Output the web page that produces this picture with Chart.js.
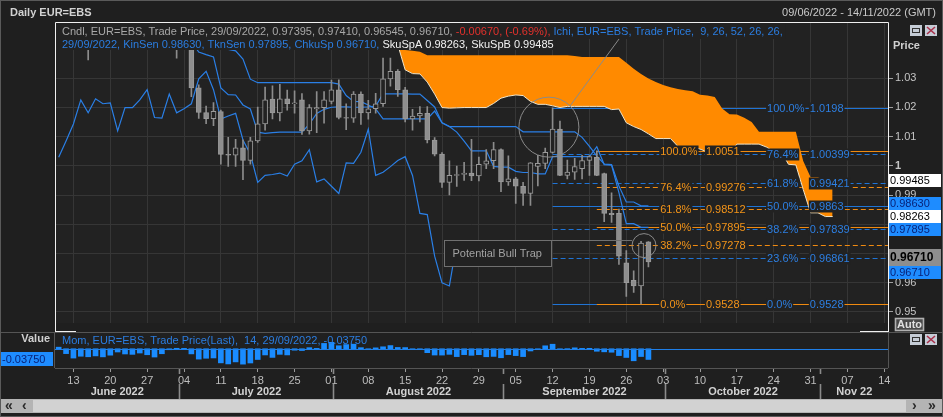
<!DOCTYPE html>
<html>
<head>
<meta charset="utf-8">
<title>Daily EUR=EBS</title>
<script src="https://cdn.jsdelivr.net/npm/chart.js@4.4.1/dist/chart.umd.min.js"></script>
<style>
  html, body { margin: 0; padding: 0; background: #1f1f1f; }
  #wrap { position: relative; width: 943px; height: 417px; overflow: hidden; background: #1f1f1f; }
  #priceCanvas { position: absolute; left: 0; top: 0; }
  #momCanvas { position: absolute; left: 0; top: 332px; }
  #scroll { position: absolute; left: 0; top: 399px; width: 943px; height: 14px; background: #b4b4b4; }
  #track { position: absolute; left: 33px; top: 1px; width: 873px; height: 12px; background: #d2d2d2; }
  .arr { position: absolute; top: -2px; font: bold 14px "Liberation Sans", Arial, sans-serif; color: #2a2a2a; }
  #frame { position: absolute; left: 0; top: 0; width: 941px; height: 415px; border: 1px solid #5a5a5a; pointer-events: none; }
</style>
</head>
<body>
<div id="wrap">
  <canvas id="priceCanvas" width="943" height="332"></canvas>
  <canvas id="momCanvas" width="943" height="85"></canvas>
  <div id="scroll"><div id="track"></div>
    <span class="arr" style="left:5px">&laquo;</span><span class="arr" style="left:22px">&lsaquo;</span>
    <span class="arr" style="left:912px">&rsaquo;</span><span class="arr" style="left:928px">&raquo;</span>
  </div>
  <div id="frame"></div>
</div>
<script>
var fontFam = '"Liberation Sans", Arial, sans-serif';
var plotBg = '#222222';

// trading days 2022 (MM-DD), 09/06/2022 - 14/11/2022
var days = [
  '06-09','06-10','06-13','06-14','06-15','06-16','06-17','06-20','06-21','06-22','06-23','06-24','06-27','06-28','06-29','06-30',
  '07-01','07-04','07-05','07-06','07-07','07-08','07-11','07-12','07-13','07-14','07-15','07-18','07-19','07-20','07-21','07-22',
  '07-25','07-26','07-27','07-28','07-29',
  '08-01','08-02','08-03','08-04','08-05','08-08','08-09','08-10','08-11','08-12','08-15','08-16','08-17','08-18','08-19',
  '08-22','08-23','08-24','08-25','08-26','08-29','08-30','08-31',
  '09-01','09-02','09-05','09-06','09-07','09-08','09-09','09-12','09-13','09-14','09-15','09-16','09-19','09-20','09-21',
  '09-22','09-23','09-26','09-27','09-28','09-29','09-30',
  '10-03','10-04','10-05','10-06','10-07','10-10','10-11','10-12','10-13','10-14','10-17','10-18','10-19','10-20','10-21',
  '10-24','10-25','10-26','10-27','10-28','10-31',
  '11-01','11-02','11-03','11-04','11-07','11-08','11-09','11-10','11-11','11-14'
];
var months = [['06','June 2022'],['07','July 2022'],['08','August 2022'],['09','September 2022'],['10','October 2022'],['11','Nov 22']];

// daily candles from 09/06 to 29/09
var open = [
  1.0715,1.0617,1.0510,1.0409,1.0415,1.0446,1.0544,1.0494,1.0508,1.0533,
  1.0567,1.0521,1.0556,1.0583,1.0519,1.0442,1.0484,1.0425,1.0425,1.0266,
  1.0182,1.0161,1.0185,1.0039,1.0036,1.0061,1.0018,1.0085,1.0143,1.0228,
  1.0181,1.0229,1.0212,1.0225,1.0119,1.0194,1.0199,1.0220,1.0260,1.0165,
  1.0163,1.0245,1.0181,1.0195,1.0212,1.0297,1.0323,1.0260,1.0160,1.0170,
  1.0179,1.0088,1.0040,0.9943,0.9967,0.9970,0.9975,0.9965,1.0005,1.0017,
  1.0055,0.9945,0.9955,0.9930,0.9905,0.9998,1.0008,1.0046,1.0125,0.9967,
  0.9978,0.9990,1.0018,1.0029,0.9973,0.9837,0.9837,0.9668,0.9608,0.9589,
  0.97395
];
var high = [
  1.0774,1.0640,1.0520,1.0470,1.0506,1.0601,1.0553,1.0541,1.0583,1.0606,
  1.0580,1.0571,1.0615,1.0606,1.0527,1.0487,1.0486,1.0464,1.0436,1.0277,
  1.0204,1.0216,1.0190,1.0097,1.0090,1.0089,1.0097,1.0201,1.0269,1.0273,
  1.0278,1.0259,1.0256,1.0247,1.0209,1.0254,1.0254,1.0293,1.0294,1.0212,
  1.0254,1.0253,1.0224,1.0248,1.0368,1.0368,1.0329,1.0268,1.0193,1.0202,
  1.0202,1.0096,1.0045,1.0017,0.9999,1.0012,1.0090,1.0030,1.0055,1.0080,
  1.0058,1.0034,0.9960,0.9943,1.0011,1.0036,1.0060,1.0198,1.0153,1.0019,
  1.0025,1.0036,1.0035,1.0051,0.9975,0.9907,0.9852,0.9710,0.9641,0.9742,
  0.97410
];
var low = [
  1.0614,1.0506,1.0398,1.0399,1.0362,1.0399,1.0444,1.0487,1.0495,1.0469,
  1.0467,1.0514,1.0540,1.0510,1.0434,1.0400,1.0368,1.0408,1.0236,1.0162,
  1.0144,1.0137,1.0005,0.9998,0.9998,0.9952,1.0005,1.0080,1.0122,1.0160,
  1.0153,1.0190,1.0180,1.0107,1.0108,1.0113,1.0146,1.0211,1.0160,1.0123,
  1.0148,1.0141,1.0159,1.0180,1.0203,1.0272,1.0237,1.0150,1.0122,1.0150,
  1.0078,1.0034,0.9926,0.9900,0.9929,0.9950,0.9949,0.9948,0.9990,0.9990,
  0.9911,0.9933,0.9871,0.9864,0.9864,0.9931,0.9990,1.0043,0.9966,0.9955,
  0.9953,0.9955,0.9967,0.9966,0.9809,0.9806,0.9663,0.9553,0.9567,0.9528,
  0.96545
];
var close = [
  1.0617,1.0519,1.0409,1.0415,1.0446,1.0544,1.0494,1.0508,1.0533,1.0567,
  1.0521,1.0556,1.0583,1.0519,1.0442,1.0484,1.0425,1.0428,1.0266,1.0182,
  1.0161,1.0186,1.0039,1.0036,1.0061,1.0018,1.0085,1.0143,1.0225,1.0181,
  1.0229,1.0212,1.0215,1.0119,1.0199,1.0199,1.0225,1.0260,1.0165,1.0163,
  1.0245,1.0181,1.0195,1.0212,1.0297,1.0323,1.0260,1.0160,1.0170,1.0179,
  1.0088,1.0040,0.9943,0.9967,0.9970,0.9975,0.9965,1.0005,1.0017,1.0055,
  0.9945,0.9955,0.9930,0.9905,1.0010,1.0008,1.0046,1.0125,0.9967,0.9978,
  0.9997,1.0018,1.0031,0.9967,0.9837,0.9833,0.9691,0.9600,0.9589,0.9736,
  0.96710
];

// Ichimoku (9, 26, 52) lines
var ichiStart = 18;
var tenkan = [
  1.0426,1.0389,1.0380,1.0372,1.0266,1.0243,1.0242,1.0208,1.0194,1.0115,
  1.0111,1.0113,1.0115,1.0115,1.0115,1.0115,1.0142,1.0179,1.0193,1.0200,
  1.0201,1.0201,1.0200,1.0200,1.0201,1.0204,1.0246,1.0246,1.0246,1.0246,
  1.0245,1.0245,1.0223,1.0201,1.0147,1.0134,1.0115,1.0084,1.0051,1.0051,
  1.0051,0.9998,0.9995,0.9995,0.9981,0.9977,0.9977,0.9972,0.9972,1.0031,
  1.0031,1.0031,1.0031,1.0031,1.0031,1.0065,1.0004,1.0002,0.9908,0.9802,
  0.9802,0.97895,0.97895
];
var kijun = [
  1.0505,1.0468,1.0459,1.0456,1.0400,1.0398,1.0393,1.0365,1.0296,1.0284,
  1.0284,1.0284,1.0284,1.0284,1.0284,1.0284,1.0284,1.0284,1.0284,1.0284,
  1.0279,1.0240,1.0220,1.0219,1.0208,1.0194,1.0160,1.0160,1.0160,1.0160,
  1.0160,1.0160,1.0160,1.0187,1.0147,1.0134,1.0134,1.0134,1.0134,1.0134,
  1.0134,1.0134,1.0134,1.0134,1.0134,1.0116,1.0116,1.0116,1.0116,1.0116,
  1.0116,1.0116,1.0116,1.0097,1.0066,1.0033,1.0006,1.0004,0.9931,0.9876,
  0.9876,0.9863,0.9863
];
var chikou = [
  1.0029,1.0085,1.0143,1.0225,1.0181,1.0229,1.0212,1.0215,1.0119,1.0199,
  1.0199,1.0225,1.0260,1.0165,1.0163,1.0245,1.0181,1.0195,1.0212,1.0297,
  1.0323,1.0260,1.0160,1.0170,1.0179,1.0088,1.0040,0.9943,0.9967,0.9970,
  0.9975,0.9965,1.0005,1.0017,1.0055,0.9945,0.9955,0.9930,0.9905,1.0010,
  1.0008,1.0046,1.0125,0.9967,0.9978,0.9997,1.0018,1.0031,0.9967,0.9837,
  0.9833,0.9691,0.9600,0.9589,0.9736,0.9671
];
var cloudStart = 43;
var senkouA = [
  1.0466,1.0429,1.0420,1.0414,1.0328,1.0315,1.0314,1.0286,1.0245,1.0199,
  1.0197,1.0198,1.0199,1.0199,1.0199,1.0199,1.0213,1.0231,1.0238,1.0242,
  1.0240,1.0220,1.0210,1.0210,1.0205,1.0199,1.0203,1.0203,1.0203,1.0203,
  1.0203,1.0203,1.0192,1.0194,1.0147,1.0134,1.0124,1.0109,1.0093,1.0093,
  1.0093,1.0066,1.0065,1.0065,1.0057,1.0047,1.0047,1.0044,1.0044,1.0074,
  1.0074,1.0074,1.0074,1.0064,1.0049,1.0049,1.0005,1.0003,0.9919,0.9839,
  0.9839,0.98263,0.98263
];
var senkouB = [
  1.0512,1.0475,1.0466,1.0462,1.0396,1.0393,1.0390,1.0378,1.0378,1.0378,
  1.0378,1.0378,1.0378,1.0378,1.0378,1.0378,1.0378,1.0378,1.0378,1.0378,
  1.0378,1.0378,1.0378,1.0378,1.0378,1.0378,1.0378,1.0375,1.0372,1.0372,
  1.0372,1.0372,1.0372,1.0372,1.0352,1.0332,1.0314,1.0298,1.0286,1.0276,
  1.0268,1.0262,1.0258,1.0255,1.0243,1.0240,1.0235,1.0196,1.0176,1.0175,
  1.0164,1.0150,1.0116,1.0116,1.0116,1.0116,1.0116,1.0116,1.0016,0.9961,
  0.9961,0.99485,0.99485
];

// 14 day momentum
var momentum = [
  0.0055,-0.0171,-0.0326,-0.0262,-0.0281,-0.0250,-0.0284,-0.0225,-0.0114,-0.0183,
  -0.0197,-0.0150,-0.0210,-0.0290,-0.0175,-0.0035,0.0016,0.0013,-0.0180,-0.0362,
  -0.0333,-0.0322,-0.0494,-0.0531,-0.0460,-0.0538,-0.0498,-0.0376,-0.0217,-0.0303,
  -0.0196,-0.0216,-0.0051,-0.0063,0.0038,0.0013,0.0186,0.0224,0.0104,0.0145,
  0.0160,0.0038,-0.0030,0.0031,0.0068,0.0111,0.0045,0.0041,-0.0029,-0.0020,
  -0.0137,-0.0220,-0.0222,-0.0196,-0.0275,-0.0206,-0.0230,-0.0207,-0.0280,-0.0268,
  -0.0315,-0.0205,-0.0240,-0.0274,-0.0078,-0.0032,0.0103,0.0158,-0.0003,0.0003,
  0.0032,0.0013,0.0014,-0.0088,-0.0108,-0.0122,-0.0239,-0.0305,-0.0421,-0.0272,
  -0.0375
];

// fibonacci retracements
var fibPct = [100, 76.4, 61.8, 50, 38.2, 0];
var fibOrange = [1.0051, 0.99276, 0.98512, 0.97895, 0.97278, 0.9528];
var fibBluePct = [100, 76.4, 61.8, 50, 38.2, 23.6, 0];
var fibBlue = [1.0198, 1.00399, 0.99421, 0.9863, 0.97839, 0.96861, 0.9528];
var fibSolid = [100, 50, 0];

var priceTicks = [0.95, 0.96, 0.97, 0.98, 0.99, 1.00, 1.01, 1.02, 1.03];
var yMin = 0.9461, yMax = 1.04915;

// last values shown on the price axis (mob = how freely a box moves when they overlap)
var axisBoxes = [
  {v: 0.99485, bg: '#ffffff', fg: '#000000', mob: 1},
  {v: 0.98630, bg: '#1e8cff', fg: '#08237a', mob: 1},
  {v: 0.98263, bg: '#ffffff', fg: '#000000', mob: 1},
  {v: 0.97895, bg: '#1e8cff', fg: '#08237a', mob: 1},
  {v: 0.96710, bg: '#8e8e8e', fg: '#000000', mob: 0.4, bold: true},
  {v: 0.96710, bg: '#1e8cff', fg: '#08237a', mob: 1}
];

var legend1 = [
  ['Cndl, EUR=EBS, Trade Price, 29/09/2022, 0.97395, 0.97410, 0.96545, 0.96710, ', '#a8a8a8'],
  ['-0.00670, (-0.69%), ', '#e2312c'],
  ['Ichi, EUR=EBS, Trade Price,  9, 26, 52, 26, 26,', '#2b7de0']
];
var legend2 = [
  ['29/09/2022, KinSen 0.98630, TknSen 0.97895, ChkuSp 0.96710, ', '#2b7de0'],
  ['SkuSpA 0.98263, SkuSpB 0.99485', '#f2f2f2']
];

function pad(arr, start) {
  var out = [];
  for (var i = 0; i < days.length; i++) {
    var k = i - start;
    out.push(k >= 0 && k < arr.length ? arr[k] : null);
  }
  return out;
}

var isMonday = days.map(function (d) {
  var p = d.split('-');
  return new Date(Date.UTC(2022, +p[0] - 1, +p[1])).getUTCDay() === 1;
});

var wickData = pad(high.map(function (h, i) { return [low[i], h]; }), 0);
var bodyData = pad(open.map(function (o, i) { return [Math.min(o, close[i]), Math.max(o, close[i])]; }), 0);

function px(chart, i) { return chart.scales.x.getPixelForValue(i); }
function py(chart, v) { return chart.scales.y.getPixelForValue(v); }

function tag(c, t, x, y, col) {
  var w = c.measureText(t).width;
  c.fillStyle = plotBg;
  c.fillRect(x - 1, y - 6, w + 2, 12);
  c.fillStyle = col;
  c.fillText(t, x, y + 0.5);
}

function fibLines(chart, pcts, vals, startIdx, lineCol) {
  var c = chart.ctx, a = chart.chartArea;
  var x0 = px(chart, startIdx);
  c.save();
  c.lineWidth = 1;
  c.strokeStyle = lineCol;
  pcts.forEach(function (p, k) {
    var y = Math.round(py(chart, vals[k])) + 0.5;
    c.setLineDash(fibSolid.indexOf(p) >= 0 ? [] : [5, 3]);
    c.beginPath(); c.moveTo(x0, y); c.lineTo(a.right, y); c.stroke();
  });
  c.restore();
}

// the labels sit on top of the cloud and blank it out behind them
function fibTags(chart, pcts, vals, textCol, pctAt, valAt) {
  var c = chart.ctx;
  c.save();
  c.font = '11px ' + fontFam;
  c.textBaseline = 'middle';
  pcts.forEach(function (p, k) {
    var y = Math.round(py(chart, vals[k])) + 0.5;
    tag(c, p.toFixed(1) + '%', px(chart, pctAt), y, textCol);
    tag(c, String(vals[k]), px(chart, valAt), y, textCol);
  });
  c.restore();
}

function legendLine(c, parts, x, top, h) {
  c.font = '11px ' + fontFam;
  var w = 0;
  parts.forEach(function (p) { w += c.measureText(p[0]).width; });
  c.fillStyle = plotBg;
  c.fillRect(56, top, x - 56 + w + 3, h);
  c.textBaseline = 'middle';
  var xx = x;
  parts.forEach(function (p) {
    c.fillStyle = p[1];
    c.fillText(p[0], xx, top + h / 2 + 0.5);
    xx += c.measureText(p[0]).width;
  });
}

function icons(c, y) {
  c.fillStyle = '#c5ccd6';
  c.fillRect(910, y, 12, 11);
  c.strokeStyle = '#333';
  c.lineWidth = 1;
  c.strokeRect(912.5, y + 3.5, 7, 4);
  c.fillStyle = '#c5ccd6';
  c.fillRect(925, y, 12, 11);
  c.strokeStyle = '#a8304a';
  c.lineWidth = 1.6;
  c.beginPath();
  c.moveTo(927, y + 2); c.lineTo(935, y + 9);
  c.moveTo(935, y + 2); c.lineTo(927, y + 9);
  c.stroke();
}

var priceDecor = {
  id: 'priceDecor',
  beforeDraw: function (chart) {
    var c = chart.ctx, a = chart.chartArea;
    c.save();
    c.fillStyle = plotBg;
    c.fillRect(a.left, a.top, a.right - a.left, a.bottom - a.top);
    c.restore();
  },
  beforeDatasetsDraw: function (chart) {
    fibLines(chart, fibBluePct, fibBlue, 67, '#1f74d6');
    fibLines(chart, fibPct, fibOrange, 73, '#f08a10');
  },
  afterDatasetsDraw: function (chart) {
    var c = chart.ctx;
    fibTags(chart, fibBluePct, fibBlue, '#2d7fe2', 96.1, 101.9);
    fibTags(chart, fibPct, fibOrange, '#f39419', 81.6, 87.8);
    c.save();
    c.strokeStyle = '#8a8a8a';
    c.lineWidth = 1;
    // big circle and its pointer line
    var bx = px(chart, 66.5), by = py(chart, 1.0132);
    c.beginPath(); c.arc(bx, by, 30, 0, Math.PI * 2); c.stroke();
    c.beginPath(); c.moveTo(bx + 21, by - 21); c.lineTo(px(chart, 77.7), py(chart, yMax)); c.stroke();
    // small circle
    var sx = px(chart, 79.4), sy = py(chart, 0.9727);
    c.beginPath(); c.arc(sx, sy, 12, 0, Math.PI * 2); c.stroke();
    // bull trap box
    var x0 = Math.round(px(chart, 52.3)) + 0.5, x1 = Math.round(px(chart, 66.8)) + 0.5;
    var y0 = Math.round(py(chart, 0.97458)) + 0.5, y1 = Math.round(py(chart, 0.96576)) + 0.5;
    c.fillStyle = plotBg;
    c.fillRect(x0, y0, x1 - x0, y1 - y0);
    c.strokeStyle = '#707070';
    c.strokeRect(x0, y0, x1 - x0, y1 - y0);
    c.beginPath(); c.moveTo(x1, y0); c.lineTo(sx - 12, y0); c.stroke();
    c.font = '11px ' + fontFam;
    c.textBaseline = 'middle';
    c.fillStyle = '#a2a2a2';
    c.fillText('Potential Bull Trap', x0 + 8, (y0 + y1) / 2 + 0.5);
    // header legend
    legendLine(c, legend1, 62, 23, 16);
    legendLine(c, legend2, 62, 39, 11);
    c.restore();
  },
  afterDraw: function (chart) {
    var c = chart.ctx;
    c.save();
    // frame
    c.strokeStyle = '#f0f0f0';
    c.lineWidth = 1;
    c.beginPath();
    c.moveTo(55.5, 331); c.lineTo(55.5, 22.5); c.lineTo(888.5, 22.5); c.lineTo(888.5, 331);
    c.moveTo(55, 331.5); c.lineTo(76, 331.5);
    c.moveTo(860, 331.5); c.lineTo(889, 331.5);
    c.stroke();
    // title row
    c.textBaseline = 'middle';
    c.font = 'bold 11px ' + fontFam;
    c.fillStyle = '#d2d2d2';
    c.fillText('Daily EUR=EBS', 10, 13);
    c.font = '11px ' + fontFam;
    c.textAlign = 'right';
    c.fillStyle = '#cacaca';
    c.fillText('09/06/2022 - 14/11/2022 (GMT)', 936, 13);
    c.textAlign = 'left';
    c.font = 'bold 11px ' + fontFam;
    c.fillStyle = '#d0d0d0';
    c.fillText('Price', 893, 46);
    icons(c, 25);
    // value boxes on the price axis
    var boxes = axisBoxes.map(function (b) {
      return {b: b, y: py(chart, b.v), h: b.bold ? 17 : 13};
    });
    for (var it = 0; it < 80; it++) {
      for (var k = 1; k < boxes.length; k++) {
        var need = (boxes[k - 1].h + boxes[k].h) / 2;
        var d = need - (boxes[k].y - boxes[k - 1].y);
        if (d > 0) {
          var m0 = boxes[k - 1].b.mob, m1 = boxes[k].b.mob;
          boxes[k - 1].y -= d * m0 / (m0 + m1);
          boxes[k].y += d * m1 / (m0 + m1);
        }
      }
    }
    boxes.forEach(function (o) {
      var top = Math.round(o.y - o.h / 2);
      c.fillStyle = o.b.bg;
      c.fillRect(889, top, 52, o.h);
      c.fillStyle = o.b.fg;
      c.font = (o.b.bold ? 'bold 12px ' : '11px ') + fontFam;
      c.fillText(o.b.v.toFixed(5), 890, top + o.h / 2 + 0.5);
    });
    // Auto button
    c.fillStyle = '#4a4a4a';
    c.fillRect(895, 318, 29, 13);
    c.strokeStyle = '#b0b0b0';
    c.strokeRect(895.5, 318.5, 28, 12);
    c.fillStyle = '#e0e0e0';
    c.font = 'bold 11px ' + fontFam;
    c.fillText('Auto', 897, 325);
    c.restore();
  }
};

var gridCol = '#363636';

new Chart(document.getElementById('priceCanvas'), {
  type: 'bar',
  data: {
    labels: days,
    datasets: [
      {type: 'line', label: 'SkuSpB', data: pad(senkouB, cloudStart), borderWidth: 0, borderColor: 'rgba(0,0,0,0)',
       pointRadius: 0, tension: 0, fill: {target: 1, above: '#ff8a00', below: 'rgba(0,0,0,0)'}, order: 10},
      {type: 'line', label: 'SkuSpA', data: pad(senkouA, cloudStart), borderWidth: 1, borderColor: '#f6e6c6',
       pointRadius: 0, tension: 0, fill: false, order: 9},
      {type: 'line', label: 'ChkuSp', data: pad(chikou, 0), borderWidth: 1.2, borderColor: '#2a7fe6',
       pointRadius: 0, tension: 0, fill: false, order: 6},
      {type: 'line', label: 'KinSen', data: pad(kijun, ichiStart), borderWidth: 1.2, borderColor: '#2a7fe6',
       pointRadius: 0, tension: 0, fill: false, order: 5},
      {type: 'line', label: 'TknSen', data: pad(tenkan, ichiStart), borderWidth: 1.2, borderColor: '#2a7fe6',
       pointRadius: 0, tension: 0, fill: false, order: 4},
      {type: 'bar', label: 'wick', data: wickData, backgroundColor: '#8c8c8c', barThickness: 1, grouped: false, order: 2},
      {type: 'bar', label: 'body', data: bodyData, barThickness: 5, grouped: false, order: 1,
       borderWidth: 1, borderSkipped: false, borderColor: '#9a9a9a',
       backgroundColor: function (ctx) {
         var i = ctx.dataIndex;
         return close[i] >= open[i] ? plotBg : '#8e8e8e';
       }}
    ]
  },
  options: {
    responsive: false,
    animation: false,
    layout: {padding: {left: 55, top: 22, right: 0, bottom: 6}},
    plugins: {legend: {display: false}, tooltip: {enabled: false}},
    scales: {
      x: {
        offset: true,
        grid: {offset: false, drawTicks: false, color: function (ctx) { return isMonday[ctx.index] ? gridCol : 'rgba(0,0,0,0)'; }},
        ticks: {display: false, autoSkip: false},
        border: {display: false},
        afterFit: function (s) { s.height = 0; }
      },
      y: {
        position: 'right',
        min: yMin,
        max: yMax,
        afterBuildTicks: function (s) { s.ticks = priceTicks.map(function (v) { return {value: v}; }); },
        afterFit: function (s) { s.width = 55; },
        grid: {color: gridCol, tickColor: '#a0a0a0', tickLength: 5},
        border: {display: false},
        ticks: {
          color: '#c4c4c4',
          padding: 2,
          font: function (ctx) {
            return {family: fontFam, size: 11, weight: ctx.tick && Math.abs(ctx.tick.value - 1) < 1e-9 ? 'bold' : 'normal'};
          },
          callback: function (v) { return String(parseFloat(Number(v).toFixed(2))); }
        }
      }
    }
  },
  plugins: [priceDecor]
});

var momDecor = {
  id: 'momDecor',
  beforeDraw: function (chart) {
    var c = chart.ctx, a = chart.chartArea;
    c.save();
    c.fillStyle = '#202020';
    c.fillRect(a.left, a.top, a.right - a.left, a.bottom - a.top);
    c.restore();
  },
  afterDatasetsDraw: function (chart) {
    var c = chart.ctx, a = chart.chartArea;
    c.save();
    var y0 = Math.round(chart.scales.y.getPixelForValue(0)) + 0.5;
    c.strokeStyle = '#1f7fe8';
    c.lineWidth = 1;
    c.beginPath(); c.moveTo(a.left, y0); c.lineTo(a.right, y0); c.stroke();
    c.font = '11px ' + fontFam;
    c.textBaseline = 'middle';
    c.fillStyle = '#2b7de0';
    c.fillText('Mom, EUR=EBS, Trade Price(Last),  14, 29/09/2022, -0.03750', 62, 9);
    c.restore();
  },
  afterDraw: function (chart) {
    var c = chart.ctx, a = chart.chartArea;
    c.save();
    c.strokeStyle = '#555555';
    c.lineWidth = 1;
    c.beginPath();
    c.moveTo(0, 0.5); c.lineTo(943, 0.5);
    c.moveTo(a.left, a.bottom + 0.5); c.lineTo(a.right, a.bottom + 0.5);
    c.moveTo(a.right + 0.5, 0); c.lineTo(a.right + 0.5, a.bottom);
    c.moveTo(a.left - 0.5, 0); c.lineTo(a.left - 0.5, a.bottom);
    c.stroke();
    c.textBaseline = 'middle';
    c.font = 'bold 11px ' + fontFam;
    c.fillStyle = '#d0d0d0';
    c.textAlign = 'right';
    c.fillText('Value', 50, 7);
    c.textAlign = 'left';
    c.fillStyle = '#1e8cff';
    c.fillRect(0, 20, 53, 14);
    c.font = '11px ' + fontFam;
    c.fillStyle = '#08237a';
    c.fillText('-0.03750', 2, 27.5);
    icons(c, 2);
    // month bands
    var starts = months.map(function (m) {
      for (var i = 0; i < days.length; i++) { if (days[i].slice(0, 2) === m[0]) return i; }
      return 0;
    });
    c.font = 'bold 11px ' + fontFam;
    c.fillStyle = '#d2d2d2';
    c.strokeStyle = '#8a8a8a';
    var bounds = starts.map(function (s, k) { return k === 0 ? a.left : Math.round(px(chart, s)) + 2.5; });
    bounds.push(a.right);
    for (var k = 0; k < months.length; k++) {
      if (k > 0) {
        c.beginPath();
        c.moveTo(bounds[k], a.bottom + 1); c.lineTo(bounds[k], a.bottom + 6);
        c.moveTo(bounds[k], a.bottom + 16); c.lineTo(bounds[k], a.bottom + 31);
        c.stroke();
      }
      c.textAlign = 'center';
      c.fillText(months[k][1], (bounds[k] + bounds[k + 1]) / 2, 60);
    }
    c.restore();
  }
};

new Chart(document.getElementById('momCanvas'), {
  type: 'bar',
  data: {
    labels: days,
    datasets: [{label: 'Mom', data: pad(momentum, 0), backgroundColor: '#1a8cff', barThickness: 5}]
  },
  options: {
    responsive: false,
    animation: false,
    layout: {padding: {left: 55, top: 1, right: 55, bottom: 0}},
    plugins: {legend: {display: false}, tooltip: {enabled: false}},
    scales: {
      x: {
        offset: true,
        grid: {offset: false, drawOnChartArea: false, tickLength: 4,
               color: function (ctx) { return isMonday[ctx.index] ? '#9a9a9a' : 'rgba(0,0,0,0)'; }},
        ticks: {autoSkip: false, maxRotation: 0, padding: 2, color: '#bdbdbd', font: {family: fontFam, size: 11},
                callback: function (v, i) { return isMonday[i] ? days[i].slice(3) : ''; }},
        border: {display: false},
        afterFit: function (s) { s.height = 49; }
      },
      y: {display: false, min: -0.0673, max: 0.055}
    }
  },
  plugins: [momDecor]
});
</script>
</body>
</html>
